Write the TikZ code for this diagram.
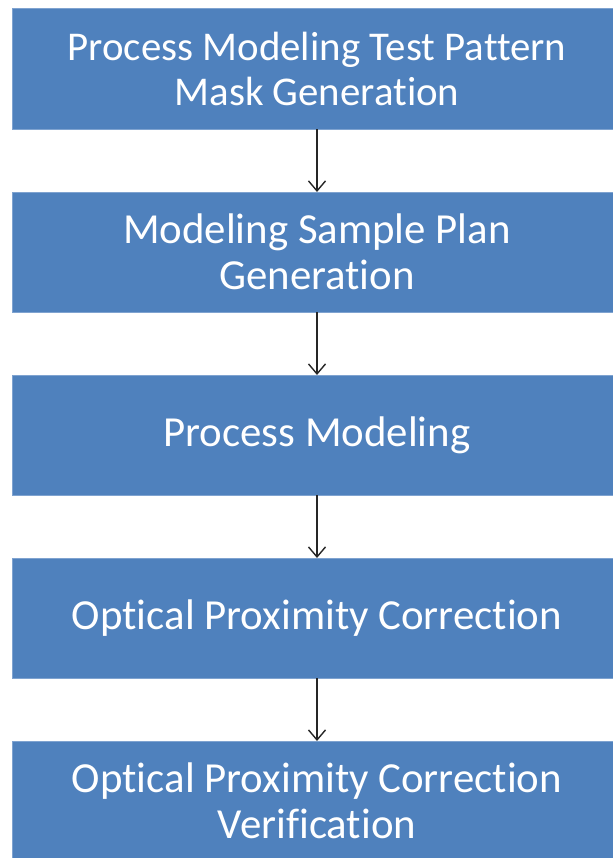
\documentclass[tikz,border=0pt]{standalone}
\usepackage{fontspec}
\setmainfont{Carlito}[Ligatures={NoCommon}]
\usetikzlibrary{arrows.meta}
\definecolor{boxblue}{HTML}{4F81BD}
\definecolor{boxedge}{HTML}{7FA3D0}

\begin{document}
\begin{tikzpicture}[x=1bp, y=-1bp]
        \useasboundingbox (0, 0) rectangle (613, 858);
        \clip (0, 0) rectangle (613, 858);

        \tikzset{stepbox/.style={fill=boxblue, draw=boxedge, line width=1bp,
            minimum width=608bp, minimum height=120bp, inner sep=0pt, outer sep=0pt,
            text=white, align=center, font=\fontsize{43}{46}\selectfont}}

        \def\pitch{183}
        \def\xmid{317}

        \node[stepbox, font=\fontsize{41}{45}\selectfont] (mask) at (\xmid, 69) {Process Modeling Test Pattern\\Mask Generation};
        \node[stepbox] (plan) at (\xmid, 69+\pitch) {Modeling Sample Plan\\Generation};
        \node[stepbox] (model) at (\xmid, 69+2*\pitch) {Process Modeling};
        \node[stepbox] (opc) at (\xmid, 69+3*\pitch) {Optical Proximity Correction};
        \node[stepbox] (verify) at (\xmid, 69+4*\pitch) {Optical Proximity Correction\\Verification};

        \foreach \a/\b in {mask/plan, plan/model, model/opc, opc/verify}
          \draw[-{Straight Barb[length=10bp, width=17bp]}, line width=1.4bp, black!85] (\a.south) -- (\b.north);
      \end{tikzpicture}
\end{document}
